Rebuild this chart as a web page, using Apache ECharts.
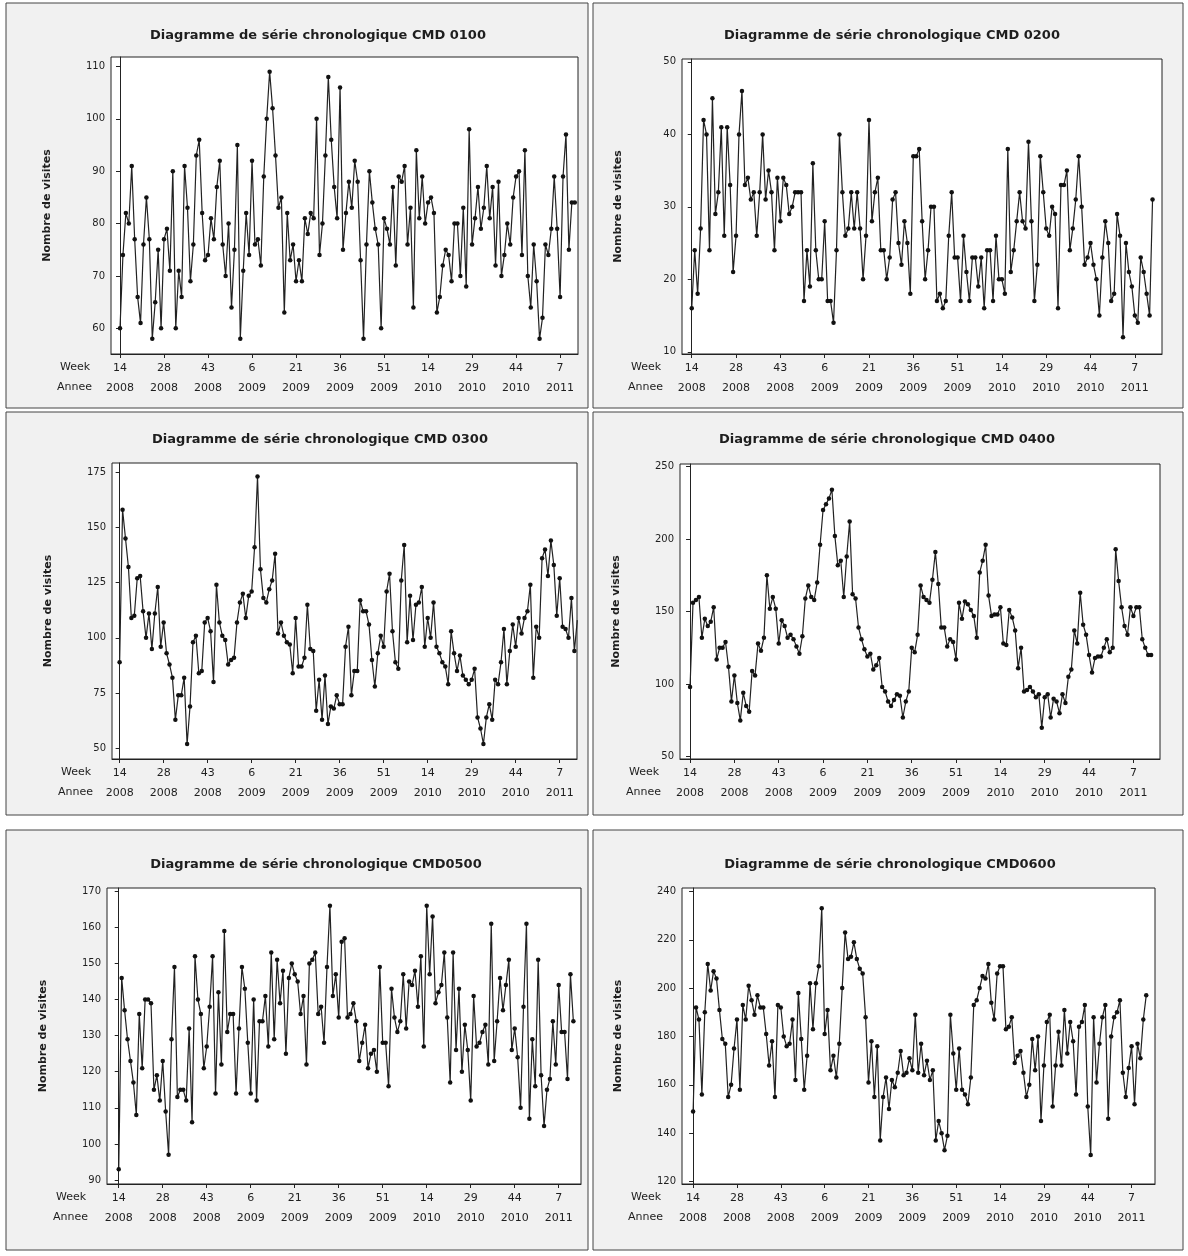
<!DOCTYPE html>
<html><head><meta charset="utf-8">
<script src="https://cdn.jsdelivr.net/npm/echarts@6/dist/echarts.min.js"></script>
<style>html,body{margin:0;padding:0;background:#fff}#c{width:1188px;height:1256px}</style>
</head><body><div id="c"></div><script>
// ---- tick labels ----
const weekTicks = ['14','28','43','6','21','36','51','14','29','44','7'];
const yearTicks = ['2008','2008','2008','2009','2009','2009','2009','2010','2010','2010','2011'];
const tickPositions = [0,15,30,45,60,75,90,105,120,135,150];
const titles = [
  'Diagramme de série chronologique CMD 0100',
  'Diagramme de série chronologique CMD 0200',
  'Diagramme de série chronologique CMD 0300',
  'Diagramme de série chronologique CMD 0400',
  'Diagramme de série chronologique CMD0500',
  'Diagramme de série chronologique CMD0600'
];
const yTicks0100 = [60,70,80,90,100,110];
const yTicks0200 = [10,20,30,40,50];
const yTicks0300 = [50,75,100,125,150,175];
const yTicks0400 = [50,100,150,200,250];
const yTicks0500 = [90,100,110,120,130,140,150,160,170];
const yTicks0600 = [120,140,160,180,200,220,240];

// ---- weekly visits ----
const cmd0100 = [60,74,82,80,91,77,66,61,76,85,77,58,65,75,60,77,79,71,90,60,
71,66,91,83,69,76,93,96,82,73,74,81,77,87,92,76,70,80,64,75,
95,58,71,82,74,92,76,77,72,89,100,109,102,93,83,85,63,82,73,76,
69,73,69,81,78,82,81,100,74,80,93,108,96,87,81,106,
75,82,88,83,92,88,73,58,76,90,84,79,76,60,81,79,76,87,72,89,
88,91,76,83,64,94,81,89,80,84,85,82,63,66,72,75,74,69,80,80,
70,83,68,98,76,81,87,79,83,91,81,87,72,88,70,74,80,76,85,89,
90,74,94,70,64,76,69,58,62,76,74,79,89,79,66,89,97,75,84,84];

const cmd0200 = [16,24,18,27,42,40,24,45,29,32,41,26,41,33,21,26,40,46,33,34,
31,32,26,32,40,31,35,32,24,34,28,34,33,29,30,32,32,32,17,
24,19,36,24,20,20,28,17,17,14,24,40,32,26,27,32,27,32,27,
20,26,42,28,32,34,24,24,20,23,31,32,25,22,28,25,18,37,37,38,28,
20,24,30,30,17,18,16,17,26,32,23,23,17,26,21,17,23,23,19,23,
16,24,24,17,26,20,20,18,38,21,24,28,32,28,27,39,28,17,22,37,
32,27,26,30,29,16,33,33,35,24,27,31,37,30,22,23,25,22,20,15,
23,28,25,17,18,29,26,12,25,21,19,15,14,23,21,18,15,31];

const cmd0300 = [89,158,145,132,109,110,127,128,112,100,111,95,111,123,96,107,93,88,82,63,
74,74,82,52,69,98,101,84,85,107,109,103,80,124,107,101,99,88,90,91,
107,116,120,109,119,121,141,173,131,118,116,122,126,138,102,107,101,98,97,84,
109,87,87,91,115,95,94,67,81,63,83,61,69,68,74,70,70,96,105,
74,85,85,117,112,112,106,90,78,93,101,96,121,129,103,89,86,126,142,98,
119,99,115,116,123,96,109,100,116,96,93,89,87,79,103,93,85,92,83,81,
79,81,86,64,59,52,64,70,63,81,79,89,104,79,94,106,96,109,102,109,
112,124,82,105,100,136,140,128,144,133,110,127,105,104,100,118,94,108];

const cmd0400 = [98,156,158,160,132,145,140,143,153,117,125,125,129,112,88,106,87,75,94,85,
81,109,106,128,123,132,175,152,160,152,128,144,140,132,134,131,126,121,133,159,
168,160,158,170,196,220,224,228,234,202,182,185,160,188,212,162,159,139,131,124,
119,121,110,113,118,98,95,88,85,89,93,92,77,88,95,125,122,134,168,160,
158,156,172,191,169,139,139,126,131,129,117,156,145,157,155,151,147,132,177,185,
196,161,147,148,148,153,128,127,151,146,137,111,125,95,96,98,95,91,93,70,
91,93,77,90,88,80,93,87,105,110,137,128,163,141,134,120,108,118,119,119,
125,131,122,125,193,171,153,140,134,153,147,153,153,131,125,120,120];

const cmd0500 = [93,146,137,129,123,117,108,136,121,140,140,139,115,119,112,123,109,97,129,149,
113,115,115,112,132,106,152,140,136,121,127,138,152,114,142,122,159,131,136,136,
114,132,149,143,128,114,140,112,134,134,141,127,153,129,151,139,148,125,146,150,
147,145,136,141,122,150,151,153,136,138,128,149,166,141,147,135,156,
157,135,136,139,134,123,128,133,121,125,126,120,149,128,128,116,143,135,131,134,
147,132,145,144,148,138,152,127,166,147,163,139,142,144,153,135,117,153,126,143,
120,133,126,112,141,127,128,131,133,122,161,123,134,146,137,144,151,126,132,124,
110,138,161,107,129,116,151,119,105,115,118,134,122,144,131,131,118,147,134];

const cmd0600 = [149,192,187,156,190,210,199,207,204,191,179,177,155,160,175,187,158,193,187,201,
195,189,197,192,192,181,168,178,155,193,192,180,176,177,187,162,198,179,158,172,
202,183,202,209,233,181,191,166,172,163,177,200,223,212,213,219,212,208,206,188,
161,178,155,176,137,155,163,150,162,159,165,174,164,165,171,166,189,165,177,
164,170,162,166,137,145,140,133,139,189,173,158,175,158,156,152,163,193,195,200,
205,204,210,194,187,206,209,209,183,184,188,169,172,174,165,155,160,179,166,180,
145,168,186,189,151,168,182,168,191,173,186,178,156,184,186,193,151,131,188,161,
177,188,193,146,180,188,190,195,165,155,167,176,152,177,171,187,197];

const seriesList = [cmd0100, cmd0200, cmd0300, cmd0400, cmd0500, cmd0600];
const yTickList = [yTicks0100, yTicks0200, yTicks0300, yTicks0400, yTicks0500, yTicks0600];

// ---- layout (pixels / axis extents) ----
const layout = [
  {frame:[6,3,582,405],   left:111, top:57,  width:467, height:297, xMin:-3.07, xMax:156.1, yMin:55.1, yMax:111.8, tx:318, ty:37},
  {frame:[593,3,590,405], left:682, top:59,  width:480, height:295, xMin:-3.3,  xMax:159.2, yMin:9.7,  yMax:50.4,  tx:892, ty:37},
  {frame:[6,412,582,403], left:112, top:463, width:465, height:296, xMin:-2.6,  xMax:155.9, yMin:45.2, yMax:179.1, tx:320, ty:441},
  {frame:[593,412,590,403],left:680,top:464, width:480, height:295, xMin:-3.4,  xMax:159,   yMin:48.4, yMax:251.7, tx:887, ty:441},
  {frame:[6,830,582,420], left:107, top:888, width:474, height:296, xMin:-4,    xMax:157.6, yMin:88.9, yMax:170.9, tx:316, ty:866},
  {frame:[593,830,590,420],left:682,top:888, width:473, height:296, xMin:-3.8,  xMax:158,   yMin:119,  yMax:241.4, tx:890, ty:866}
];

const FONT = 'DejaVu Sans';
const INK = '#1e1e1e';
const grid = [], xAxis = [], yAxis = [], series = [], title = [], graphic = [];

layout.forEach((L, k) => {
  graphic.push({type:'rect', z:-10, shape:{x:L.frame[0], y:L.frame[1], width:L.frame[2], height:L.frame[3]},
    style:{fill:'#f1f1f1', stroke:'#444', lineWidth:1}});
  graphic.push({type:'text', x:L.left-51, y:L.top+L.height+13, style:{text:'Week', font:'11px "DejaVu Sans"', fill:INK, textVerticalAlign:'middle'}});
  graphic.push({type:'text', x:L.left-54, y:L.top+L.height+33, style:{text:'Annee', font:'11px "DejaVu Sans"', fill:INK, textVerticalAlign:'middle'}});
  title.push({text:titles[k], left:L.tx, top:L.ty-8, textAlign:'center', padding:0,
    textStyle:{fontFamily:FONT, fontSize:13, fontWeight:'bold', color:INK}});
  grid.push({left:L.left, top:L.top, width:L.width, height:L.height, show:true,
    backgroundColor:'#fff', borderColor:'#222', borderWidth:1});
  xAxis.push({type:'value', gridIndex:k, min:L.xMin, max:L.xMax,
    axisLine:{show:true, lineStyle:{color:'#222'}},
    axisTick:{show:true, length:4, customValues:tickPositions, lineStyle:{color:'#222'}},
    splitLine:{show:false},
    axisLabel:{customValues:tickPositions, margin:4, lineHeight:20, fontSize:11, fontFamily:FONT, color:INK,
      formatter:v => { const i = tickPositions.indexOf(Math.round(v)); return i < 0 ? '' : weekTicks[i] + '\n' + yearTicks[i]; }}});
  yAxis.push({type:'value', gridIndex:k, min:L.yMin, max:L.yMax,
    name:'Nombre de visites', nameLocation:'middle', nameGap:58,
    nameTextStyle:{fontFamily:FONT, fontSize:11, fontWeight:'bold', color:INK},
    axisLine:{show:true, lineStyle:{color:'#222'}},
    axisTick:{show:true, length:4, customValues:yTickList[k], lineStyle:{color:'#222'}},
    splitLine:{show:false},
    axisLabel:{customValues:yTickList[k], margin:6, fontSize:10, fontFamily:FONT, color:INK}});
  series.push({type:'line', xAxisIndex:k, yAxisIndex:k,
    data:seriesList[k].map((v,i)=>[i,v]),
    symbol:'circle', symbolSize:4.5, showSymbol:true,
    lineStyle:{width:1.2, color:'#222'}, itemStyle:{color:'#111'}, z:3});
});

const chart = echarts.init(document.getElementById('c'), null, {renderer:'canvas'});
chart.setOption({animation:false, backgroundColor:'#fff', title, grid, xAxis, yAxis, series, graphic});
</script></body></html>
